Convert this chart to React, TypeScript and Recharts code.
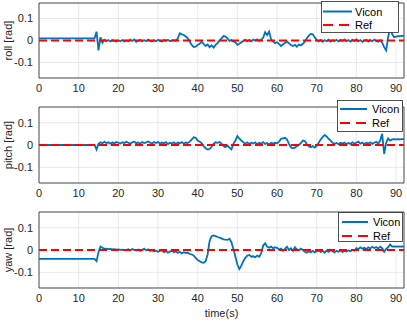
import React from 'react';
import { LineChart, Line, XAxis, YAxis, CartesianGrid, Legend, ReferenceArea, Label } from 'recharts';

// time (s): flat start, then 0.5 s steps
const time = [
  0,
  14, 14.5, 15, 15.5, 16, 16.5, 17, 17.5, 18, 18.5,
  19, 19.5, 20, 20.5, 21, 21.5, 22, 22.5, 23, 23.5,
  24, 24.5, 25, 25.5, 26, 26.5, 27, 27.5, 28, 28.5,
  29, 29.5, 30, 30.5, 31, 31.5, 32, 32.5, 33, 33.5,
  34, 34.5, 35, 35.5, 36, 36.5, 37, 37.5, 38, 38.5,
  39, 39.5, 40, 40.5, 41, 41.5, 42, 42.5, 43, 43.5,
  44, 44.5, 45, 45.5, 46, 46.5, 47, 47.5, 48, 48.5,
  49, 49.5, 50, 50.5, 51, 51.5, 52, 52.5, 53, 53.5,
  54, 54.5, 55, 55.5, 56, 56.5, 57, 57.5, 58, 58.5,
  59, 59.5, 60, 60.5, 61, 61.5, 62, 62.5, 63, 63.5,
  64, 64.5, 65, 65.5, 66, 66.5, 67, 67.5, 68, 68.5,
  69, 69.5, 70, 70.5, 71, 71.5, 72, 72.5, 73, 73.5,
  74, 74.5, 75, 75.5, 76, 76.5, 77, 77.5, 78, 78.5,
  79, 79.5, 80, 80.5, 81, 81.5, 82, 82.5, 83, 83.5,
  84, 84.5, 85, 85.5, 86, 86.5, 87, 87.5, 88, 88.5,
  89, 89.5, 90, 90.5, 91, 91.5, 92,
];

const rollVicon = [
  0.01,
  0.01, 0.04, -0.045, 0.015, -0.01, 0.003, -0.003, 0.002, -0.004, 0.001,
  -0.002, -0.005, 0.0, -0.003, 0.002, -0.004, 0.0, -0.003, 0.004, -0.002,
  0.005, -0.006, -0.001, 0.003, -0.004, 0.002, -0.003, 0.004, -0.002, -0.005,
  0.001, -0.003, 0.003, -0.002, -0.005, 0.002, -0.001, 0.003, -0.003, 0.0,
  0.002, -0.001, 0.01, 0.033, 0.028, 0.025, 0.018, 0.01, -0.005, -0.02,
  -0.03, -0.028, -0.02, -0.015, -0.005, -0.015, -0.025, -0.018, -0.03, -0.022,
  -0.032, -0.02, -0.012, 0.0, 0.01, 0.02, 0.018, 0.01, -0.002, 0.002,
  -0.005, -0.008, -0.02, -0.015, -0.008, -0.002, 0.003, -0.003, 0.002, -0.004,
  0.004, 0.0, 0.005, -0.002, 0.004, 0.012, 0.038, 0.025, 0.04, 0.005,
  -0.005, -0.012, -0.008, -0.015, -0.025, -0.018, -0.01, -0.006, -0.012, -0.02,
  -0.025, -0.02, -0.028, -0.018, -0.022, -0.015, -0.005, 0.01, 0.022, 0.03,
  0.028, 0.015, 0.002, -0.004, 0.003, -0.006, 0.002, -0.003, 0.004, -0.005,
  0.001, -0.002, 0.003, -0.004, 0.002, -0.001, 0.004, -0.003, 0.002, -0.005,
  0.003, -0.002, 0.005, -0.004, 0.002, -0.006, 0.0, 0.003, -0.005, 0.002,
  -0.003, 0.004, -0.002, -0.006, 0.001, -0.01, -0.03, -0.045, 0.015, 0.058,
  0.03, 0.015, 0.018, 0.02, 0.02, 0.021, 0.021,
];

const pitchVicon = [
  0,
  0, -0.02, 0.005, 0.012, 0.008, 0.014, 0.009, 0.012, 0.006, 0.011,
  0.008, 0.013, 0.01, 0.007, 0.012, 0.009, 0.014, 0.01, 0.006, 0.012,
  0.015, 0.008, 0.011, 0.006, 0.013, 0.009, 0.012, 0.016, 0.01, 0.007,
  0.013, 0.009, 0.014, 0.006, 0.011, 0.008, 0.013, 0.004, 0.01, 0.007,
  0.012, 0.005, 0.011, 0.008, 0.013, 0.006, 0.011, 0.009, 0.015, 0.025,
  0.035, 0.032, 0.02, 0.015, 0.008, -0.005, -0.015, -0.02, -0.018, -0.008,
  0.005, 0.012, 0.01, 0.013, 0.006, -0.005, -0.01, -0.003, -0.012, -0.02,
  0.005, 0.02, 0.04, 0.028, 0.02, 0.012, 0.006, 0.012, 0.004, 0.01,
  0.007, 0.012, 0.003, 0.01, 0.006, 0.013, 0.005, 0.009, 0.002, 0.01,
  0.006, 0.01, 0.008, 0.015, 0.028, 0.03, 0.032, 0.025, 0.005, -0.01,
  -0.015, -0.012, -0.005, 0.0, 0.008, 0.02, 0.018, 0.004, -0.006, -0.01,
  -0.005, -0.012, -0.004, 0.01, 0.025, 0.035, 0.045, 0.038, 0.028, 0.02,
  0.01, 0.005, 0.009, 0.004, 0.01, 0.006, 0.011, 0.004, 0.009, 0.005,
  0.012, 0.007, 0.01, 0.015, 0.006, 0.011, 0.004, 0.01, 0.007, 0.012,
  0.005, 0.01, 0.014, 0.006, 0.02, 0.05, -0.04, 0.01, 0.03, 0.02,
  0.025, 0.026, 0.025, 0.026, 0.025, 0.026, 0.026,
];

const yawVicon = [
  -0.04,
  -0.04, -0.05, -0.01, 0.015, 0.01, 0.005, 0.006, 0.004, 0.005, 0.003,
  0.004, 0.002, 0.003, 0.001, 0.002, -0.001, 0.0, 0.003, -0.002, 0.004,
  0.001, -0.002, 0.002, -0.004, 0.0, 0.006, -0.002, 0.003, -0.004, -0.001,
  -0.006, -0.003, -0.008, -0.004, -0.002, -0.01, -0.005, -0.012, -0.007, -0.003,
  -0.01, -0.006, -0.013, -0.008, -0.015, -0.01, -0.014, -0.012, -0.018, -0.02,
  -0.025, -0.035, -0.045, -0.05, -0.055, -0.057, -0.05, -0.02, 0.04, 0.062,
  0.065, 0.062, 0.058, 0.055, 0.052, 0.048, 0.046, 0.045, 0.05, 0.035,
  0.005, -0.03, -0.065, -0.085, -0.07, -0.05, -0.035, -0.025, -0.022, -0.03,
  -0.028, -0.032, -0.025, -0.03, -0.015, 0.02, 0.03, 0.015, 0.01, 0.015,
  0.008, 0.012, 0.01, 0.002, 0.006, -0.003, 0.005, 0.015, 0.0, 0.008,
  -0.004, 0.012, 0.003, -0.002, 0.006, 0.0, -0.008, -0.012, -0.006, -0.01,
  -0.004, -0.011, -0.006, -0.002, -0.009, -0.004, -0.012, -0.003, -0.008, 0.001,
  -0.006, -0.011, -0.004, -0.008, -0.002, -0.009, -0.004, -0.007, -0.002, -0.006,
  0.0, -0.003, 0.008, 0.004, 0.012, 0.006, 0.01, 0.004, 0.012, 0.007,
  0.014, 0.009, 0.013, 0.006, 0.015, 0.008, -0.008, 0.005, 0.012, 0.025,
  0.015, 0.016, 0.015, 0.016, 0.015, 0.016, 0.015,
];

const refTime = [0, 92];
const refValue = [0, 0];

const xTicks = [0, 10, 20, 30, 40, 50, 60, 70, 80, 90];
const yTicks = [-0.1, 0, 0.1];

const FONT = '"Liberation Sans", Arial, Helvetica, sans-serif';
const INK = '#262626';
const BLUE = '#0072BD';
const RED = '#FF0000';

function YLabel({ viewBox, text }: any) {
  const cy = viewBox.y + viewBox.height / 2;
  return (
    <text x={8} y={cy} transform={`rotate(-90 8 ${cy})`} textAnchor="middle" dominantBaseline="central"
      fontSize={11} fill={INK} fontFamily={FONT}>
      {text}
    </text>
  );
}

function LegendBox({ w, h, x1, x2, tx, r1, r2 }: any) {
  return (
    <svg width={w} height={h} style={{ display: 'block' }}>
      <rect x={0.5} y={0.5} width={w - 1} height={h - 1} fill="#fff" stroke={INK} strokeWidth={0.8} />
      <line x1={x1} x2={x2} y1={r1} y2={r1} stroke={BLUE} strokeWidth={2} />
      <text x={tx} y={r1} dominantBaseline="central" fontSize={11} fill="#000" fontFamily={FONT}>Vicon</text>
      <line x1={x1} x2={x2} y1={r2} y2={r2} stroke={RED} strokeWidth={2} strokeDasharray="10 6" />
      <text x={tx} y={r2} dominantBaseline="central" fontSize={11} fill="#000" fontFamily={FONT}>Ref</text>
    </svg>
  );
}

function Panel({ values, label, height, marginTop, axisHeight, xLabel, legend }: any) {
  const data = time.map((t, i) => ({ t, v: values[i] }));
  const refData = refTime.map((t, i) => ({ t, r: refValue[i] }));
  const tickStyle = { fill: INK, fontSize: 11, fontFamily: FONT };
  return (
    <LineChart width={407} height={height} data={data} margin={{ top: marginTop, right: 3, bottom: 2, left: 0 }}>
      <CartesianGrid stroke="#e3e3e3" strokeWidth={0.8} />
      <XAxis dataKey="t" type="number" domain={[0, 92]} ticks={xTicks} interval={0} allowDataOverflow
        height={axisHeight} tickLine={false} axisLine={false} tickSize={4} tickMargin={2} tick={tickStyle}>
        {xLabel && <Label value={xLabel} position="insideBottom" offset={4} fill={INK} fontSize={11} fontFamily={FONT} />}
      </XAxis>
      <YAxis type="number" domain={[-0.17, 0.17]} ticks={yTicks} interval={0} allowDataOverflow width={39}
        tickLine={false} axisLine={false} tickSize={4} tickMargin={2} tick={tickStyle}
        tickFormatter={(v: number) => (v === 0 ? '0' : String(v))}
        label={<YLabel text={label} />} />
      <Line dataKey="v" stroke={BLUE} strokeWidth={1.8} dot={false} isAnimationActive={false} />
      <Line data={refData} dataKey="r" stroke={RED} strokeWidth={1.8} strokeDasharray="8 4" dot={false} isAnimationActive={false} />
      <ReferenceArea x1={0} x2={92} y1={-0.17} y2={0.17} fill="none" stroke={INK} strokeWidth={0.8} ifOverflow="visible" />
      <Legend layout="vertical" align="center" verticalAlign="middle"
        wrapperStyle={{ left: legend.left, top: legend.top, width: legend.w, height: legend.h }}
        content={() => <LegendBox {...legend} />} />
    </LineChart>
  );
}

export default function App() {
  return (
    <div style={{ position: 'absolute', left: 0, top: 0, width: 407, height: 323, background: '#fff' }}>
      <div style={{ position: 'absolute', left: 0, top: 0 }}>
        <Panel values={rollVicon} label="roll [rad]" height={100} marginTop={3} axisHeight={20}
          legend={{ left: 321, top: 1, w: 78, h: 32, x1: 2, x2: 31, tx: 34, r1: 10.5, r2: 24 }} />
      </div>
      <div style={{ position: 'absolute', left: 0, top: 100 }}>
        <Panel values={pitchVicon} label="pitch [rad]" height={105} marginTop={7} axisHeight={20}
          legend={{ left: 337, top: 0, w: 66, h: 32, x1: 3, x2: 30, tx: 35, r1: 9, r2: 23 }} />
      </div>
      <div style={{ position: 'absolute', left: 0, top: 205 }}>
        <Panel values={yawVicon} label="yaw [rad]" height={118} marginTop={7} axisHeight={33} xLabel="time(s)"
          legend={{ left: 338, top: 7, w: 65, h: 30, x1: 4, x2: 30, tx: 35, r1: 10, r2: 24 }} />
      </div>
    </div>
  );
}
